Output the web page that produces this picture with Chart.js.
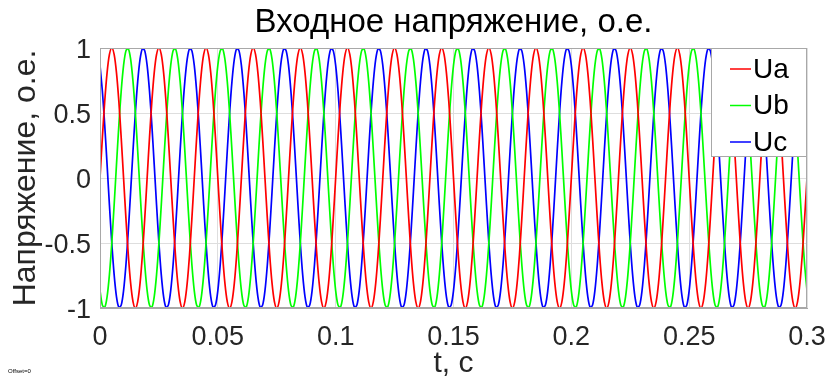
<!DOCTYPE html>
<html>
<head>
<meta charset="utf-8">
<script src="https://cdn.jsdelivr.net/npm/chart.js@4"></script>
<style>
  html, body { margin: 0; padding: 0; background: #fff; }
  #wrap { position: relative; width: 830px; height: 377px; }
  #offset { position: absolute; left: 8px; top: 368px; font: 6px "Liberation Sans", Arial, sans-serif; color: #000; }
</style>
</head>
<body>
<div id="wrap">
  <canvas id="chart" width="830" height="377"></canvas>
  <div id="offset">Offset=0</div>
</div>
<script>
// time samples, s (1 ms step, one period per row)
const times = [
  0,0.001,0.002,0.003,0.004,0.005,0.006,0.007,0.008,0.009,0.01,0.011,0.012,0.013,0.014,0.015,0.016,0.017,0.018,0.019,
  0.02,0.021,0.022,0.023,0.024,0.025,0.026,0.027,0.028,0.029,0.03,0.031,0.032,0.033,0.034,0.035,0.036,0.037,0.038,0.039,
  0.04,0.041,0.042,0.043,0.044,0.045,0.046,0.047,0.048,0.049,0.05,0.051,0.052,0.053,0.054,0.055,0.056,0.057,0.058,0.059,
  0.06,0.061,0.062,0.063,0.064,0.065,0.066,0.067,0.068,0.069,0.07,0.071,0.072,0.073,0.074,0.075,0.076,0.077,0.078,0.079,
  0.08,0.081,0.082,0.083,0.084,0.085,0.086,0.087,0.088,0.089,0.09,0.091,0.092,0.093,0.094,0.095,0.096,0.097,0.098,0.099,
  0.1,0.101,0.102,0.103,0.104,0.105,0.106,0.107,0.108,0.109,0.11,0.111,0.112,0.113,0.114,0.115,0.116,0.117,0.118,0.119,
  0.12,0.121,0.122,0.123,0.124,0.125,0.126,0.127,0.128,0.129,0.13,0.131,0.132,0.133,0.134,0.135,0.136,0.137,0.138,0.139,
  0.14,0.141,0.142,0.143,0.144,0.145,0.146,0.147,0.148,0.149,0.15,0.151,0.152,0.153,0.154,0.155,0.156,0.157,0.158,0.159,
  0.16,0.161,0.162,0.163,0.164,0.165,0.166,0.167,0.168,0.169,0.17,0.171,0.172,0.173,0.174,0.175,0.176,0.177,0.178,0.179,
  0.18,0.181,0.182,0.183,0.184,0.185,0.186,0.187,0.188,0.189,0.19,0.191,0.192,0.193,0.194,0.195,0.196,0.197,0.198,0.199,
  0.2,0.201,0.202,0.203,0.204,0.205,0.206,0.207,0.208,0.209,0.21,0.211,0.212,0.213,0.214,0.215,0.216,0.217,0.218,0.219,
  0.22,0.221,0.222,0.223,0.224,0.225,0.226,0.227,0.228,0.229,0.23,0.231,0.232,0.233,0.234,0.235,0.236,0.237,0.238,0.239,
  0.24,0.241,0.242,0.243,0.244,0.245,0.246,0.247,0.248,0.249,0.25,0.251,0.252,0.253,0.254,0.255,0.256,0.257,0.258,0.259,
  0.26,0.261,0.262,0.263,0.264,0.265,0.266,0.267,0.268,0.269,0.27,0.271,0.272,0.273,0.274,0.275,0.276,0.277,0.278,0.279,
  0.28,0.281,0.282,0.283,0.284,0.285,0.286,0.287,0.288,0.289,0.29,0.291,0.292,0.293,0.294,0.295,0.296,0.297,0.298,0.299,
  0.3
];

// phase voltages, p.u.
const ua = [
  0,0.309,0.588,0.809,0.951,1,0.951,0.809,0.588,0.309,0,-0.309,-0.588,-0.809,-0.951,-1,-0.951,-0.809,-0.588,-0.309,
  0,0.309,0.588,0.809,0.951,1,0.951,0.809,0.588,0.309,0,-0.309,-0.588,-0.809,-0.951,-1,-0.951,-0.809,-0.588,-0.309,
  0,0.309,0.588,0.809,0.951,1,0.951,0.809,0.588,0.309,0,-0.309,-0.588,-0.809,-0.951,-1,-0.951,-0.809,-0.588,-0.309,
  0,0.309,0.588,0.809,0.951,1,0.951,0.809,0.588,0.309,0,-0.309,-0.588,-0.809,-0.951,-1,-0.951,-0.809,-0.588,-0.309,
  0,0.309,0.588,0.809,0.951,1,0.951,0.809,0.588,0.309,0,-0.309,-0.588,-0.809,-0.951,-1,-0.951,-0.809,-0.588,-0.309,
  0,0.309,0.588,0.809,0.951,1,0.951,0.809,0.588,0.309,0,-0.309,-0.588,-0.809,-0.951,-1,-0.951,-0.809,-0.588,-0.309,
  0,0.309,0.588,0.809,0.951,1,0.951,0.809,0.588,0.309,0,-0.309,-0.588,-0.809,-0.951,-1,-0.951,-0.809,-0.588,-0.309,
  0,0.309,0.588,0.809,0.951,1,0.951,0.809,0.588,0.309,0,-0.309,-0.588,-0.809,-0.951,-1,-0.951,-0.809,-0.588,-0.309,
  0,0.309,0.588,0.809,0.951,1,0.951,0.809,0.588,0.309,0,-0.309,-0.588,-0.809,-0.951,-1,-0.951,-0.809,-0.588,-0.309,
  0,0.309,0.588,0.809,0.951,1,0.951,0.809,0.588,0.309,0,-0.309,-0.588,-0.809,-0.951,-1,-0.951,-0.809,-0.588,-0.309,
  0,0.309,0.588,0.809,0.951,1,0.951,0.809,0.588,0.309,0,-0.309,-0.588,-0.809,-0.951,-1,-0.951,-0.809,-0.588,-0.309,
  0,0.309,0.588,0.809,0.951,1,0.951,0.809,0.588,0.309,0,-0.309,-0.588,-0.809,-0.951,-1,-0.951,-0.809,-0.588,-0.309,
  0,0.309,0.588,0.809,0.951,1,0.951,0.809,0.588,0.309,0,-0.309,-0.588,-0.809,-0.951,-1,-0.951,-0.809,-0.588,-0.309,
  0,0.309,0.588,0.809,0.951,1,0.951,0.809,0.588,0.309,0,-0.309,-0.588,-0.809,-0.951,-1,-0.951,-0.809,-0.588,-0.309,
  0,0.309,0.588,0.809,0.951,1,0.951,0.809,0.588,0.309,0,-0.309,-0.588,-0.809,-0.951,-1,-0.951,-0.809,-0.588,-0.309,
  0
];
const ub = [
  -0.866,-0.978,-0.995,-0.914,-0.743,-0.5,-0.208,0.105,0.407,0.669,0.866,0.978,0.995,0.914,0.743,0.5,0.208,-0.105,-0.407,-0.669,
  -0.866,-0.978,-0.995,-0.914,-0.743,-0.5,-0.208,0.105,0.407,0.669,0.866,0.978,0.995,0.914,0.743,0.5,0.208,-0.105,-0.407,-0.669,
  -0.866,-0.978,-0.995,-0.914,-0.743,-0.5,-0.208,0.105,0.407,0.669,0.866,0.978,0.995,0.914,0.743,0.5,0.208,-0.105,-0.407,-0.669,
  -0.866,-0.978,-0.995,-0.914,-0.743,-0.5,-0.208,0.105,0.407,0.669,0.866,0.978,0.995,0.914,0.743,0.5,0.208,-0.105,-0.407,-0.669,
  -0.866,-0.978,-0.995,-0.914,-0.743,-0.5,-0.208,0.105,0.407,0.669,0.866,0.978,0.995,0.914,0.743,0.5,0.208,-0.105,-0.407,-0.669,
  -0.866,-0.978,-0.995,-0.914,-0.743,-0.5,-0.208,0.105,0.407,0.669,0.866,0.978,0.995,0.914,0.743,0.5,0.208,-0.105,-0.407,-0.669,
  -0.866,-0.978,-0.995,-0.914,-0.743,-0.5,-0.208,0.105,0.407,0.669,0.866,0.978,0.995,0.914,0.743,0.5,0.208,-0.105,-0.407,-0.669,
  -0.866,-0.978,-0.995,-0.914,-0.743,-0.5,-0.208,0.105,0.407,0.669,0.866,0.978,0.995,0.914,0.743,0.5,0.208,-0.105,-0.407,-0.669,
  -0.866,-0.978,-0.995,-0.914,-0.743,-0.5,-0.208,0.105,0.407,0.669,0.866,0.978,0.995,0.914,0.743,0.5,0.208,-0.105,-0.407,-0.669,
  -0.866,-0.978,-0.995,-0.914,-0.743,-0.5,-0.208,0.105,0.407,0.669,0.866,0.978,0.995,0.914,0.743,0.5,0.208,-0.105,-0.407,-0.669,
  -0.866,-0.978,-0.995,-0.914,-0.743,-0.5,-0.208,0.105,0.407,0.669,0.866,0.978,0.995,0.914,0.743,0.5,0.208,-0.105,-0.407,-0.669,
  -0.866,-0.978,-0.995,-0.914,-0.743,-0.5,-0.208,0.105,0.407,0.669,0.866,0.978,0.995,0.914,0.743,0.5,0.208,-0.105,-0.407,-0.669,
  -0.866,-0.978,-0.995,-0.914,-0.743,-0.5,-0.208,0.105,0.407,0.669,0.866,0.978,0.995,0.914,0.743,0.5,0.208,-0.105,-0.407,-0.669,
  -0.866,-0.978,-0.995,-0.914,-0.743,-0.5,-0.208,0.105,0.407,0.669,0.866,0.978,0.995,0.914,0.743,0.5,0.208,-0.105,-0.407,-0.669,
  -0.866,-0.978,-0.995,-0.914,-0.743,-0.5,-0.208,0.105,0.407,0.669,0.866,0.978,0.995,0.914,0.743,0.5,0.208,-0.105,-0.407,-0.669,
  -0.866
];
const uc = [
  0.866,0.669,0.407,0.105,-0.208,-0.5,-0.743,-0.914,-0.995,-0.978,-0.866,-0.669,-0.407,-0.105,0.208,0.5,0.743,0.914,0.995,0.978,
  0.866,0.669,0.407,0.105,-0.208,-0.5,-0.743,-0.914,-0.995,-0.978,-0.866,-0.669,-0.407,-0.105,0.208,0.5,0.743,0.914,0.995,0.978,
  0.866,0.669,0.407,0.105,-0.208,-0.5,-0.743,-0.914,-0.995,-0.978,-0.866,-0.669,-0.407,-0.105,0.208,0.5,0.743,0.914,0.995,0.978,
  0.866,0.669,0.407,0.105,-0.208,-0.5,-0.743,-0.914,-0.995,-0.978,-0.866,-0.669,-0.407,-0.105,0.208,0.5,0.743,0.914,0.995,0.978,
  0.866,0.669,0.407,0.105,-0.208,-0.5,-0.743,-0.914,-0.995,-0.978,-0.866,-0.669,-0.407,-0.105,0.208,0.5,0.743,0.914,0.995,0.978,
  0.866,0.669,0.407,0.105,-0.208,-0.5,-0.743,-0.914,-0.995,-0.978,-0.866,-0.669,-0.407,-0.105,0.208,0.5,0.743,0.914,0.995,0.978,
  0.866,0.669,0.407,0.105,-0.208,-0.5,-0.743,-0.914,-0.995,-0.978,-0.866,-0.669,-0.407,-0.105,0.208,0.5,0.743,0.914,0.995,0.978,
  0.866,0.669,0.407,0.105,-0.208,-0.5,-0.743,-0.914,-0.995,-0.978,-0.866,-0.669,-0.407,-0.105,0.208,0.5,0.743,0.914,0.995,0.978,
  0.866,0.669,0.407,0.105,-0.208,-0.5,-0.743,-0.914,-0.995,-0.978,-0.866,-0.669,-0.407,-0.105,0.208,0.5,0.743,0.914,0.995,0.978,
  0.866,0.669,0.407,0.105,-0.208,-0.5,-0.743,-0.914,-0.995,-0.978,-0.866,-0.669,-0.407,-0.105,0.208,0.5,0.743,0.914,0.995,0.978,
  0.866,0.669,0.407,0.105,-0.208,-0.5,-0.743,-0.914,-0.995,-0.978,-0.866,-0.669,-0.407,-0.105,0.208,0.5,0.743,0.914,0.995,0.978,
  0.866,0.669,0.407,0.105,-0.208,-0.5,-0.743,-0.914,-0.995,-0.978,-0.866,-0.669,-0.407,-0.105,0.208,0.5,0.743,0.914,0.995,0.978,
  0.866,0.669,0.407,0.105,-0.208,-0.5,-0.743,-0.914,-0.995,-0.978,-0.866,-0.669,-0.407,-0.105,0.208,0.5,0.743,0.914,0.995,0.978,
  0.866,0.669,0.407,0.105,-0.208,-0.5,-0.743,-0.914,-0.995,-0.978,-0.866,-0.669,-0.407,-0.105,0.208,0.5,0.743,0.914,0.995,0.978,
  0.866,0.669,0.407,0.105,-0.208,-0.5,-0.743,-0.914,-0.995,-0.978,-0.866,-0.669,-0.407,-0.105,0.208,0.5,0.743,0.914,0.995,0.978,
  0.866
];

const seriesNames = ['Ua', 'Ub', 'Uc'];
const seriesColors = ['#ff0000', '#00ff00', '#0000ff'];
const xTicks = [0, 0.05, 0.1, 0.15, 0.2, 0.25, 0.3];
const yTicks = [-1, -0.5, 0, 0.5, 1];

const FONT = '"Liberation Sans", Arial, Helvetica, sans-serif';

// frame around the plot + legend box in the upper right corner
const frameAndLegend = {
    id: 'frameAndLegend',
    afterDatasetsDraw(chart){
        const ctx = chart.ctx;
        const a = chart.chartArea;
        ctx.save();
        ctx.strokeStyle = '#a8a8a8';
        ctx.lineWidth = 1;
        ctx.strokeRect(a.left + 0.5, a.top + 0.5, a.right - a.left - 1, a.bottom - a.top - 1);

        const w = 96, h = 109;
        const x = a.right - w, y = a.top;
        ctx.fillStyle = '#fff';
        ctx.fillRect(x, y, w, h);
        ctx.strokeRect(x + 0.5, y + 0.5, w - 1, h - 1);

        ctx.font = '28px ' + FONT;
        ctx.textBaseline = 'middle';
        ctx.textAlign = 'left';
        chart.data.datasets.forEach((ds, i) => {
            const cy = y + 21 + i * 36.5;
            ctx.strokeStyle = ds.borderColor;
            ctx.lineWidth = 1.5;
            ctx.beginPath();
            ctx.moveTo(x + 19, cy);
            ctx.lineTo(x + 40, cy);
            ctx.stroke();
            ctx.fillStyle = '#000';
            ctx.fillText(ds.label, x + 42, cy + 1);
        });
        ctx.restore();
    }
};

const datasets = [ua, ub, uc].map((vals, i) => ({
    label: seriesNames[i],
    data: vals,
    borderColor: seriesColors[i],
    backgroundColor: seriesColors[i],
    borderWidth: 1.7,
    pointRadius: 0,
    tension: 0.3,
    fill: false
}));

new Chart(document.getElementById('chart'), {
    type: 'line',
    data: { labels: times, datasets: datasets },
    options: {
        responsive: false,
        animation: false,
        layout: { padding: { left: 0, right: 23, top: 0, bottom: 0 } },
        plugins: {
            legend: { display: false },
            tooltip: { enabled: false },
            title: {
                display: true,
                fullSize: false,
                text: 'Входное напряжение, о.е.',
                color: '#000',
                font: { family: FONT, size: 33, weight: 'normal', lineHeight: 1.2 },
                padding: { top: 3, bottom: 5.4 }
            }
        },
        scales: {
            x: {
                type: 'linear',
                min: 0,
                max: 0.3,
                afterFit(scale){
                    scale.height = 69;
                    scale.paddingLeft = 0;
                    scale.paddingRight = 0;
                },
                afterBuildTicks(scale){ scale.ticks = xTicks.map(v => ({ value: v })); },
                grid: { color: '#dedede', drawTicks: false },
                border: { color: '#a8a8a8' },
                ticks: {
                    color: '#262626',
                    font: { family: FONT, size: 27 },
                    padding: 13,
                    maxRotation: 0,
                    callback: v => String(v)
                },
                title: {
                    display: true,
                    text: 't, c',
                    color: '#262626',
                    font: { family: FONT, size: 30, lineHeight: 0.9 },
                    padding: { top: 0, bottom: 0 }
                }
            },
            y: {
                min: -1,
                max: 1,
                afterFit(scale){ scale.width = 100; },
                afterBuildTicks(scale){ scale.ticks = yTicks.map(v => ({ value: v })); },
                grid: { color: '#dedede', drawTicks: false },
                border: { color: '#a8a8a8' },
                ticks: {
                    color: '#262626',
                    font: { family: FONT, size: 27 },
                    padding: 9,
                    labelOffset: 3,
                    callback: v => String(v)
                },
                title: {
                    display: true,
                    text: 'Напряжение, о.е.',
                    color: '#262626',
                    font: { family: FONT, size: 32, lineHeight: 1 },
                    padding: { top: 10, bottom: 0 }
                }
            }
        }
    },
    plugins: [frameAndLegend]
});
</script>
</body>
</html>
